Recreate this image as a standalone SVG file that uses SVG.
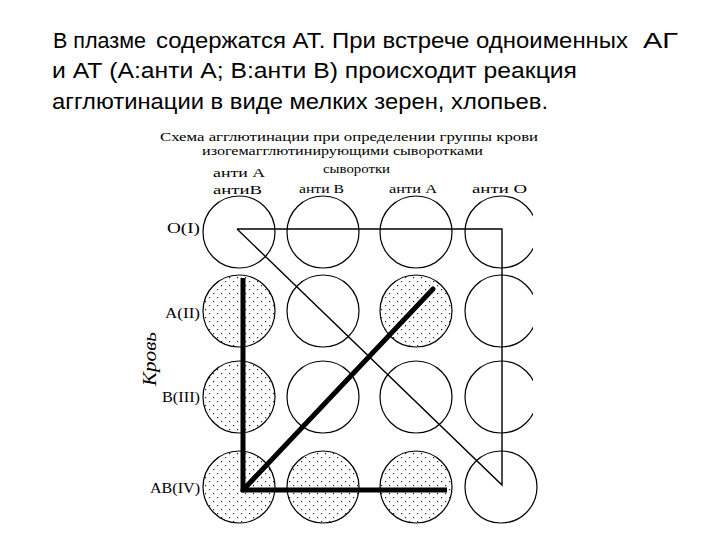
<svg xmlns="http://www.w3.org/2000/svg" width="720" height="540" viewBox="0 0 720 540">
<defs>
<pattern id="dots" width="8" height="8" patternUnits="userSpaceOnUse">
<rect x="1" y="1" width="1.2" height="1.2" fill="#222"/>
<rect x="5" y="5" width="1.2" height="1.2" fill="#222"/>
</pattern>
<clipPath id="cut"><rect x="0" y="0" width="533" height="540"/></clipPath>
</defs>
<style>
.head{font-family:"Liberation Sans",Arial,sans-serif;font-size:21.5px;fill:#000}
.lab{font-family:"Liberation Serif","Times New Roman",serif;font-size:13px;fill:#000}
.row{font-family:"Liberation Serif","Times New Roman",serif;font-size:15px;fill:#000}
.c{fill:#fff;stroke:#000;stroke-width:1.2}
.s{fill:url(#dots);stroke:#000;stroke-width:1.2}
.thin{fill:none;stroke:#000;stroke-width:1.4}
.thick{fill:none;stroke:#000;stroke-width:5}
</style>
<rect width="720" height="540" fill="#fff"/>
<g id="header">
<text class="head" y="48"><tspan x="53" textLength="93" lengthAdjust="spacingAndGlyphs">В плазме</tspan><tspan x="156" textLength="472" lengthAdjust="spacingAndGlyphs">содержатся АТ. При встрече одноименных</tspan><tspan x="643" textLength="35" lengthAdjust="spacingAndGlyphs">АГ</tspan></text>
<text class="head" x="52" y="78" textLength="525" lengthAdjust="spacingAndGlyphs">и АТ (А:анти А; В:анти В) происходит реакция</text>
<text class="head" x="52" y="109" textLength="496" lengthAdjust="spacingAndGlyphs">агглютинации в виде мелких зерен, хлопьев.</text>
</g>
<g id="titles">
<text class="lab" x="160" y="141" textLength="378" lengthAdjust="spacingAndGlyphs">Схема агглютинации при определении группы крови</text>
<text class="lab" x="202" y="155" textLength="281" lengthAdjust="spacingAndGlyphs">изогемагглютинирующими сыворотками</text>
<text class="lab" x="323" y="173" textLength="67" lengthAdjust="spacingAndGlyphs">сыворотки</text>
<text class="lab" x="213" y="177" textLength="52" lengthAdjust="spacingAndGlyphs">анти А</text>
<text class="lab" x="213" y="194" textLength="49" lengthAdjust="spacingAndGlyphs">антиВ</text>
<text class="lab" x="299" y="193" textLength="45" lengthAdjust="spacingAndGlyphs">анти В</text>
<text class="lab" x="389" y="193" textLength="48" lengthAdjust="spacingAndGlyphs">анти А</text>
<text class="lab" x="472" y="193" textLength="55" lengthAdjust="spacingAndGlyphs">анти О</text>
</g>
<g id="rowlabels">
<text class="row" x="167" y="233" textLength="33" lengthAdjust="spacingAndGlyphs">O(I)</text>
<text class="row" x="165" y="318" textLength="35" lengthAdjust="spacingAndGlyphs">A(II)</text>
<text class="row" x="162" y="402" textLength="38" lengthAdjust="spacingAndGlyphs">B(III)</text>
<text class="row" x="150" y="493" textLength="50" lengthAdjust="spacingAndGlyphs">AB(IV)</text>
<text class="row" transform="translate(156,386) rotate(-90)" style="font-size:18px;font-style:italic" textLength="54" lengthAdjust="spacingAndGlyphs">Кровь</text>
</g>
<g id="row1">
<circle class="c" cx="239" cy="232" r="36"/>
<circle class="c" cx="323" cy="232" r="36"/>
<circle class="c" cx="416" cy="232" r="36"/>
<circle class="c" cx="501" cy="232" r="36" clip-path="url(#cut)"/>
</g>
<g id="row2">
<circle class="s" cx="239" cy="311" r="36"/>
<circle class="c" cx="323" cy="311" r="36"/>
<circle class="s" cx="416" cy="311" r="36"/>
<circle class="c" cx="501" cy="311" r="36" clip-path="url(#cut)"/>
</g>
<g id="row3">
<circle class="s" cx="239" cy="397" r="36"/>
<circle class="c" cx="323" cy="397" r="36"/>
<circle class="c" cx="416" cy="397" r="36"/>
<circle class="c" cx="501" cy="397" r="36" clip-path="url(#cut)"/>
</g>
<g id="row4">
<circle class="s" cx="239" cy="487" r="36"/>
<circle class="s" cx="323" cy="487" r="36"/>
<circle class="s" cx="416" cy="487" r="36"/>
<circle class="c" cx="501" cy="487" r="36"/>
</g>
<g id="connectors">
<polyline class="thin" points="237,229 502,229 502,485 237,229"/>
<line class="thick" x1="243" y1="278" x2="243" y2="492"/>
<line class="thick" x1="241" y1="490" x2="447" y2="490"/>
<line class="thick" x1="243" y1="490" x2="433" y2="289" stroke-linecap="round"/>
</g>
</svg>
